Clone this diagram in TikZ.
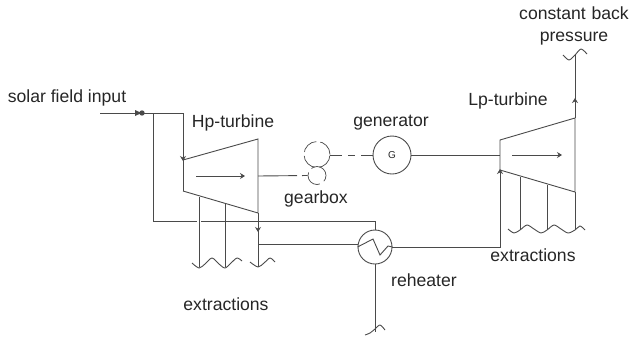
\documentclass[tikz,border=0pt]{standalone}
\usepackage{xcolor}
\usepackage{fontspec}
\setmainfont{Liberation Sans}
\usepackage{tikz}
\usetikzlibrary{arrows.meta}
\definecolor{linegray}{HTML}{4A4A4A}
\definecolor{textgray}{HTML}{262626}
\tikzset{
	label/.style={text=textgray, font=\fontsize{17.6}{22}\selectfont, inner sep=0pt, align=center},
	machine/.style={circle, draw=linegray, inner sep=0pt},
	tipped/.style={-{Stealth[length=5pt,width=6pt]}},
	brokenline/.style={dash pattern=on 12pt off 6pt on 7pt off 6pt}
}

\begin{document}
\begin{tikzpicture}[x=1pt, y=-1pt, line width=0.9pt, draw=linegray]
			\useasboundingbox (0,0) rectangle (629,338);

			% machines
			\node[machine, minimum size=38pt, text=textgray, font=\fontsize{10}{12}\selectfont] (gen) at (392,155) {G};
			\node[machine, minimum size=34pt] (heater) at (375,247) {};
			\node[machine, minimum size=26pt, line width=0.7pt, dash pattern=on 17pt off 4pt] (gearbig) at (317,154.5) {};
			\node[machine, minimum size=18pt, line width=0.7pt, dash pattern=on 20pt off 5pt] (gearsmall) at (317,175.5) {};

			% corners of the turbines
			\coordinate (hpa) at (183,160);
			\coordinate (hpb) at (258,139);
			\coordinate (hpc) at (258,213);
			\coordinate (hpd) at (183,191);
			\coordinate (lpa) at (500,140);
			\coordinate (lpb) at (575,118);
			\coordinate (lpc) at (575,192);
			\coordinate (lpd) at (500,170);
			\draw (hpa) -- (hpb) -- (hpc) -- (hpd);
			\draw (lpd) -- (lpa) -- (lpb) -- (lpc) -- (lpd);

			% steam lines
			\coordinate (input) at (100,113);
			\coordinate (split) at (153,113);
			\coordinate (hpin) at (183,113);
			\coordinate (bleeda) at (197,221);
			\coordinate (bleedb) at (201,221);
			\coordinate (hpout) at (258,244.5);
			\coordinate (hpend) at (258,267);
			\coordinate (lpend) at (575,230);
			\coordinate (backend) at (575,55);
			\coordinate (drain) at (375,332);
			\draw (input) -- (hpin) -- (hpd);
			\draw (split) |- (bleeda);
			\draw (bleedb) -| (heater.north);
			\draw (hpc) -- (hpend);
			\draw (hpout) -- (heater.west |- hpout);
			\draw (heater.east) -| (lpd);
			\draw (heater.south) -- (drain);
			\draw (lpc) -- (lpend);
			\draw (lpb) -- (backend);

			% extraction lines
			\coordinate (hpxa) at (199,197);
			\coordinate (hpxb) at (225,204);
			\coordinate (lpxa) at (520,177);
			\coordinate (lpxb) at (547,185);
			\draw (hpxa) -- (hpxa |- hpend);
			\draw (hpxb) -- (hpxb |- hpend);
			\draw (lpxa) -- (lpxa |- lpend);
			\draw (lpxb) -- (lpxb |- lpend);

			% shaft
			\coordinate (shaft) at (258,176);
			\draw[dash pattern=on 39pt off 5pt on 6pt off 3pt] (shaft) -- (gearsmall.west);
			\draw[brokenline] (gearbig.east |- gen) -- (gen.west);
			\draw (gen.east) -- (gen.east -| lpa);

			% arrows
			\coordinate (flowa) at (196,176);
			\coordinate (flowb) at (245,176);
			\coordinate (flowc) at (512,155);
			\coordinate (flowd) at (562,155);
			\draw[tipped] (flowa) -- (flowb);
			\draw[tipped] (flowc) -- (flowd);
			\draw[tipped] (183,154) -- (183,161);
			\draw[tipped] (258,225) -- (258,232);
			\draw[tipped] (500,176) -- (500,169);
			\draw[tipped] (575,105) -- (575,98);
			\fill[linegray] (135,110) -- (141.5,113) -- (135,116) -- cycle;
			\fill[linegray] (142,113) circle (2.7pt);

			% heater coil
			\draw (heater.west) -- (373,239) -- (380,255) -- (388,246) -- (heater.east);

			% wavy ends
			\draw plot[smooth] coordinates {(192,263) (199,268) (205,264) (212,258) (219,264) (225,268) (231,263) (237,258) (242,261)};
			\draw plot[smooth] coordinates {(250,262) (258,267) (264,263) (270,258) (275,262)};
			\draw plot[smooth] coordinates {(508,229) (514,233) (520,230) (527,225) (534,229) (541,233) (547,230) (554,225) (561,229) (568,233) (575,230) (580,226) (585,230)};
			\draw plot[smooth] coordinates {(563,55) (569,60) (575,55) (581,49) (587,54)};
			\draw plot[smooth] coordinates {(365,335) (370,333) (375,329) (380,325) (385,330)};

			% labels
			\node[label] (solar) at (67,97.5) {solar field input};
			\node[label] (hplabel) at (233,122.5) {Hp-turbine};
			\node[label] (genlabel) at (391,122.5) {generator};
			\node[label] (gearlabel) at (316,198.5) {gearbox};
			\node[label] (hpxlabel) at (226,304) {extractions};
			\node[label] (reheat) at (424,280) {reheater};
			\node[label] (lplabel) at (508,100.5) {Lp-turbine};
			\node[label] (lpxlabel) at (533,255) {extractions};
			\node[label, text width=110pt] (back) at (574,26) {constant back\\pressure};
		\end{tikzpicture}
\end{document}
